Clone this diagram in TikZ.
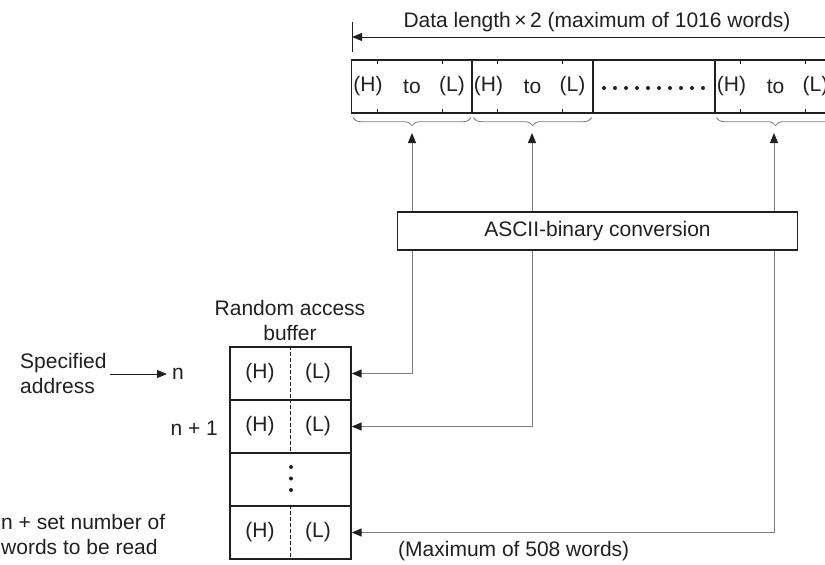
\documentclass[tikz,border=0pt]{standalone}
\usepackage{fontspec}
\setmainfont{Liberation Sans}
\usetikzlibrary{arrows.meta,positioning,decorations.pathreplacing}
\definecolor{inkblack}{RGB}{35,31,32}
\definecolor{wiregray}{RGB}{125,125,125}
\tikzset{
  lbl/.style={inner sep=0pt, font=\fontsize{21}{25}\selectfont, text=inkblack},
  cellbox/.style={draw=inkblack, line width=1.3pt, minimum width=121pt, minimum height=53pt, inner sep=0pt},
  convbox/.style={draw=inkblack, line width=1.3pt, minimum width=400pt, minimum height=38pt, inner sep=0pt, font=\fontsize{21}{25}\selectfont, text=inkblack},
  tickline/.style={draw=inkblack, line width=0.9pt},
  halfline/.style={draw=inkblack, line width=0.9pt, dash pattern=on 3.5pt off 2.5pt},
  wire/.style={draw=wiregray, line width=1pt, -{Triangle[length=10pt,width=8pt,color=inkblack]}},
  ptr/.style={draw=inkblack, line width=1pt, -{Triangle[length=10pt,width=8pt]}},
  bracemark/.style={draw=wiregray, line width=0.8pt, decorate, decoration={brace, mirror, amplitude=8pt}}
}
\begin{document}
\begin{tikzpicture}[x=1pt, y=-1pt]
  \clip (0,0) rectangle (825,565);
  % Data length line
  \node[lbl] (lenlabel) at (597,22) {Data length\,×\,2 (maximum of 1016 words)};
  \coordinate (dimL) at (352,37);
  \coordinate (dimR) at (830,37);
  \draw[tickline] (352,22) -- (352,52);
  \draw[ptr] (dimR) -- (dimL);
  % Row of words
  \node[cellbox] (cellA) at (412,86.5) {};
  \node[cellbox] (cellB) at (532.5,86.5) {};
  \node[cellbox] (cellC) at (654,86.5) {};
  \node[cellbox] (cellD) at (775.5,86.5) {};
  \foreach \c in {cellA,cellB,cellD}{
    \node[lbl] (\c-h) at ([xshift=-44pt]\c.center) {(H)};
    \node[lbl] (\c-to) at (\c.center) {to};
    \node[lbl] (\c-l) at ([xshift=40pt]\c.center) {(L)};
    \draw[tickline] ([xshift=-35pt]\c.north) -- ++(0,5);
    \draw[tickline] ([xshift=30pt]\c.north) -- ++(0,5);
    \draw[tickline] ([xshift=-35pt]\c.south) -- ++(0,-5);
    \draw[tickline] ([xshift=30pt]\c.south) -- ++(0,-5);
    \draw[bracemark] ([xshift=2pt,yshift=-4pt]\c.south west) -- ([xshift=-2pt,yshift=-4pt]\c.south east);
  }
  \foreach \i in {0,...,9}
    \fill[inkblack] (604+\i*11,88) circle (2pt);
  \coordinate (tipA) at (412,133);
  \coordinate (tipB) at (532,133);
  \coordinate (tipD) at (774,133);
  % Conversion
  \node[convbox] (conv) at (597.5,231) {ASCII-binary conversion};
  % Random access buffer
  \node[lbl, align=center] (buflabel) at (290,320) {Random access\\buffer};
  \node[cellbox] (rowA) at (290.5,373.5) {};
  \node[cellbox] (rowB) at (290.5,426.5) {};
  \node[cellbox] (rowC) at (290.5,479.5) {};
  \node[cellbox] (rowD) at (290.5,532.5) {};
  \foreach \r in {rowA,rowB,rowD}{
    \draw[halfline] (\r.north) -- (\r.south);
    \node[lbl] (\r-h) at ([xshift=-30.5pt]\r.center) {(H)};
    \node[lbl] (\r-l) at ([xshift=27.5pt]\r.center) {(L)};
  }
  \foreach \i in {0,1,2}
    \fill[inkblack] (291,467+\i*11.5) circle (2pt);
  % Left labels
  \node[lbl, align=left, anchor=west] (spec) at (20,373) {Specified\\address};
  \node[lbl, anchor=west] (addrn) at (172,374) {n};
  \draw[ptr] ([xshift=3pt]spec.east |- addrn.west) -- ([xshift=-5pt]addrn.west);
  \node[lbl, anchor=east] (nplus) at (218,428) {n + 1};
  \node[lbl, align=left, anchor=west] (nlast) at (1,534) {n + set number of\\words to be read};
  \node[lbl, anchor=west] (maxwords) at (398,551) {(Maximum of 508 words)};
  % Connectors
  \draw[wire] (conv.north -| tipA) -- (tipA);
  \draw[wire] (conv.north -| tipB) -- (tipB);
  \draw[wire] (conv.north -| tipD) -- (tipD);
  \draw[wire] (conv.south -| tipA) |- (rowA.east);
  \draw[wire] (conv.south -| tipB) |- (rowB.east);
  \draw[wire] (conv.south -| tipD) |- (rowD.east);
\end{tikzpicture}
\end{document}
